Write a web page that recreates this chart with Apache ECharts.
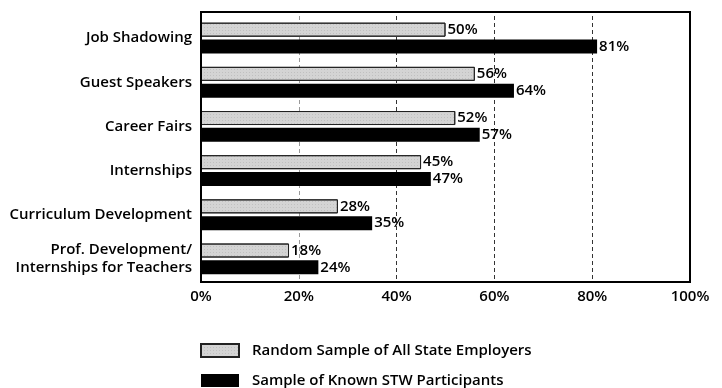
<!DOCTYPE html>
<html><head><meta charset="utf-8">
<script src="https://cdn.jsdelivr.net/npm/echarts@6/dist/echarts.min.js"></script>
<style>html,body{margin:0;padding:0;background:#fff}#c{width:722px;height:388px}</style>
</head><body><div id="c"></div>
<script>
const categories = ["Job Shadowing","Guest Speakers","Career Fairs","Internships","Curriculum Development","Prof. Development/\nInternships for Teachers"];
const randomSample = [50,56,52,45,28,18];
const knownSTW = [81,64,57,47,35,24];
const seriesNames = ["Random Sample of All State Employers","Sample of Known STW Participants"];
const FONT = "Open Sans";
const chart = echarts.init(document.getElementById('c'));
const lbl = {show:true, position:'right', distance:2, formatter:'{c}%', color:'#000', fontFamily:FONT, fontWeight:600, fontSize:15};
const decal = {symbol:'rect', symbolSize:0.6, color:'rgba(80,80,80,0.5)', dashArrayX:[1,2], dashArrayY:[1,2], rotation:0};
chart.setOption({
  animation:false,
  grid:{left:201, top:16, width:489, height:265, containLabel:false},
  graphic:[{type:'rect', shape:{x:201,y:12,width:489,height:270}, style:{fill:'none', stroke:'#000', lineWidth:2}, z:10}],
  legend:{orient:'vertical', left:200, top:343, padding:0, itemWidth:38, itemHeight:13, itemGap:15, icon:'rect',
    textStyle:{fontFamily:FONT, fontWeight:600, fontSize:15, color:'#000', padding:[0,0,0,8]},
    data:seriesNames},
  xAxis:{type:'value', min:0, max:100, interval:20,
    axisLabel:{formatter:'{value}%', color:'#000', fontFamily:FONT, fontWeight:600, fontSize:15, margin:8},
    axisLine:{show:false}, axisTick:{show:false},
    splitLine:{show:true, lineStyle:{color:['#000','#999','#333','#333','#333','#000'], type:[4,3], width:1}}},
  yAxis:{type:'category', data:categories, inverse:true,
    axisLine:{show:false}, axisTick:{show:false},
    axisLabel:{color:'#000', fontFamily:FONT, fontWeight:600, fontSize:15, margin:9, lineHeight:18, align:'right'}},
  series:[
    {name:seriesNames[0], type:'bar', data:randomSample, barWidth:14, barGap:'20%',
     itemStyle:{color:'#d4d4d4', borderColor:'#222', borderWidth:1, decal:decal},
     label:lbl},
    {name:seriesNames[1], type:'bar', data:knownSTW, barWidth:14,
     itemStyle:{color:'#000'}, label:lbl}
  ]
});
</script></body></html>
